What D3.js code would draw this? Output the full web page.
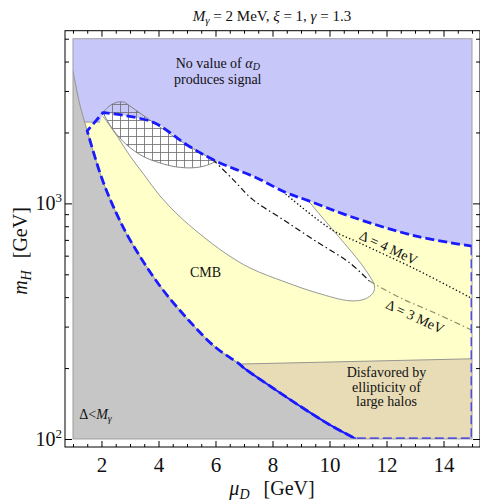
<!DOCTYPE html>
<html>
<head>
<meta charset="utf-8">
<script src="https://cdn.jsdelivr.net/npm/d3@7"></script>
<style>
  html, body { margin: 0; padding: 0; background: #fff; }
  svg { display: block; }
  text { font-family: "Liberation Serif", "DejaVu Serif", serif; fill: #111; }
</style>
</head>
<body>
<svg id="chart" width="480" height="504"></svg>
<script>
// ---- data (mu_D in GeV, m_H in GeV) ----
// boundary of the Δ < M_γ region
const muBoundary = [1.0, 1.06, 1.25, 1.5, 2, 2.5, 3, 4, 5, 6, 6.84, 7, 8, 9, 10, 10.93];
const mBoundary  = [3650, 3345, 2600, 2030, 1290, 920, 700, 455, 325, 245, 208, 200, 165, 137, 115, 100];

// upper edge: above it no value of alpha_D produces the signal
const muUpper = [2.05, 3.8, 5.0, 6.03, 7.43, 8.48, 9.25, 10.7, 13.04, 15];
const mUpper  = [2427, 2213, 1770, 1510, 1285, 1110, 1028, 883, 726, 658];

// allowed (white) lens: lower edge, tip and right edge
const muLens = [2.05, 2.545, 3.0, 3.527, 4.053, 4.685, 5.457, 6.334, 7.21, 8.44, 9.56, 10.72, 11.25, 11.53, 11.58, 11.53, 11.14, 10.72, 9.91, 9.25];
const mLens  = [2345, 1932, 1590, 1306, 1075, 893, 741, 616, 532, 464, 417, 386, 393, 417, 442, 464, 548, 634, 826, 1028];

// hatched region: top cap and lower edge (middle part follows the upper edge)
const muHatchTop = [2.05, 2.3, 2.57, 2.8, 3.8];
const mHatchTop  = [2427, 2600, 2692, 2692, 2213];
const muHatchLow = [6.03, 5.68, 5.21, 4.62, 4.04, 3.45, 2.87, 2.4, 2.05];
const mHatchLow  = [1510, 1449, 1416, 1429, 1487, 1585, 1778, 2060, 2427];

// top edge of the halo-ellipticity region
const muHalo = [6.84, 15];
const mHalo  = [208, 219];

// Δ = 3 MeV contour (inside and outside the lens)
const muD3a = [5.90, 6.61, 7.30, 8.36, 9.53, 10.70, 11.40];
const mD3a  = [1538, 1265, 1040, 855, 690, 560, 468];
const muD3b = [11.40, 12.45, 13.62, 14.96];
const mD3b  = [468, 399, 346, 291];

// Δ = 4 MeV contour
const muD4 = [8.48, 10.11, 11.05, 13.04, 14.96];
const mD4  = [1091, 769, 680, 524, 397];

// axis ticks
const xMajor = [2, 4, 6, 8, 10, 12, 14];
const xMinor = d3.range(1, 15.01, 0.5).filter(v => !xMajor.includes(v));
const yMajor = [100, 1000];
const yMinor = [200, 300, 400, 500, 600, 700, 800, 900, 2000, 3000, 4000, 5000];

const muRange = [1, 15], mRange = [100, 5000];

// ---- scales (2% padding on each side, as in the frame) ----
const padX = 0.02 * (muRange[1] - muRange[0]);
const lg = Math.log10;
const padY = 0.02 * (lg(mRange[1]) - lg(mRange[0]));
const x = d3.scaleLinear().domain([muRange[0] - padX, muRange[1] + padX]).range([65, 480]);
const y = d3.scaleLog().domain([10 ** (lg(mRange[0]) - padY), 10 ** (lg(mRange[1]) + padY)]).range([447, 30.7]);

const svg = d3.select("#chart");
const pts = (mu, m) => mu.map((v, i) => [v, m[i]]);
const straight = d3.line().x(d => x(d[0])).y(d => y(d[1]));
const smooth = d3.line().x(d => x(d[0])).y(d => y(d[1])).curve(d3.curveCatmullRom.alpha(0.5));
// join several path pieces into one continuous path
const join = (pieces, close) => pieces.map((p, i) => i ? p.replace(/^M/, "L") : p).join("") + (close ? "Z" : "");

const C = {
  lavender: "#c7c7fa", yellow: "#ffffc9", gray: "#c6c6c6", tan: "#e8dcb6",
  edge: "#8c8c8c", blue: "#1a1aff"
};

// hatch pattern
const defs = svg.append("defs");
const pat = defs.append("pattern").attr("id", "hatch").attr("patternUnits", "userSpaceOnUse")
  .attr("width", 8).attr("height", 8);
pat.append("path").attr("d", "M0,0.5H8M0.5,0V8").attr("stroke", "#6a6a6a").attr("stroke-width", 0.8).attr("fill", "none");

defs.append("clipPath").attr("id", "plotClip").append("rect")
  .attr("x", x(muRange[0])).attr("y", y(mRange[1]))
  .attr("width", x(muRange[1]) - x(muRange[0])).attr("height", y(mRange[0]) - y(mRange[1]));

const g = svg.append("g").attr("clip-path", "url(#plotClip)");

// background: no alpha_D works
g.append("rect").attr("x", x(muRange[0])).attr("y", y(mRange[1]))
  .attr("width", x(muRange[1]) - x(muRange[0])).attr("height", y(mRange[0]) - y(mRange[1]))
  .attr("fill", C.lavender);

const upper = pts(muUpper, mUpper);
const bnd = pts(muBoundary, mBoundary);

// CMB-excluded (yellow) region under the upper edge
g.append("path").attr("d", join([
  straight([[muRange[0], 2213], [1.95, 2213], upper[0]]),
  smooth(upper),
  straight([[muRange[1], upper[upper.length - 1][1]], [muRange[1], mRange[0]], [muRange[0], mRange[0]]])
], true)).attr("fill", C.yellow);

// halo ellipticity region
const halo = pts(muHalo, mHalo);
g.append("path").attr("d", straight([...halo, [muRange[1], mRange[0]], [muHalo[0], mRange[0]]]) + "Z").attr("fill", C.tan);

// allowed lens
const lens = pts(muLens, mLens);
const lensTop = upper.filter(d => d[0] <= muLens[muLens.length - 1]).reverse();
g.append("path").attr("d", join([smooth(lens), smooth(lensTop)], true)).attr("fill", "#fff");

// hatched region
const hatchMid = upper.filter(d => d[0] >= 3.8 && d[0] <= 6.03);
g.append("path").attr("d", join([
  smooth(pts(muHatchTop, mHatchTop).slice(0, 4)),
  straight(pts(muHatchTop, mHatchTop).slice(3)),
  smooth(hatchMid),
  smooth(pts(muHatchLow, mHatchLow))
], true)).attr("fill", "url(#hatch)").attr("stroke", "#777").attr("stroke-width", 0.9);

// Δ < M_γ region
g.append("path").attr("d", join([smooth(bnd), straight([[muRange[0], mRange[0]]])], true)).attr("fill", C.gray);

// region edges
const edge = sel => sel.attr("fill", "none").attr("stroke", C.edge).attr("stroke-width", 0.9);
edge(g.append("path").attr("d", smooth(bnd)));
edge(g.append("path").attr("d", straight(halo)));
edge(g.append("path").attr("d", smooth(lens)));
edge(g.append("path").attr("d", straight([[1.42, 2213], [1.95, 2213]])));

// Δ contours
g.append("path").attr("d", smooth(pts(muD3a, mD3a))).attr("fill", "none")
  .attr("stroke", "#111").attr("stroke-width", 1.2).attr("stroke-dasharray", "6,3,1.5,3");
g.append("path").attr("d", smooth(pts(muD3b, mD3b))).attr("fill", "none")
  .attr("stroke", "#8f8f68").attr("stroke-width", 1.2).attr("stroke-dasharray", "6,3,1.5,3");
g.append("path").attr("d", smooth(pts(muD4, mD4))).attr("fill", "none")
  .attr("stroke", "#111").attr("stroke-width", 1.5).attr("stroke-linecap", "round")
  .attr("stroke-dasharray", "0.1,3.6");

// signal-region boundary (blue dashed)
g.append("path").attr("d", smooth(bnd.filter(d => d[0] >= 6.84))).attr("fill", "none")
  .attr("stroke", C.blue).attr("stroke-width", 2);
const bndUp = bnd.filter(d => d[0] >= 1.5).reverse();
g.append("path").attr("d", join([
  straight([[muRange[1], upper[upper.length - 1][1]], [muRange[1], mRange[0]], [muBoundary[muBoundary.length - 1], mRange[0]]]),
  smooth(bndUp),
  straight([bndUp[bndUp.length - 1], upper[0]]),
  smooth(upper)
])).attr("fill", "none").attr("stroke", C.blue).attr("stroke-width", 2.8).attr("stroke-dasharray", "9,4");

// outline of plotted area
svg.append("rect").attr("x", x(muRange[0])).attr("y", y(mRange[1]))
  .attr("width", x(muRange[1]) - x(muRange[0])).attr("height", y(mRange[0]) - y(mRange[1]))
  .attr("fill", "none").attr("stroke", "#999").attr("stroke-width", 0.9);

// ---- labels inside the plot ----
const t = (px, py, size, anchor) => svg.append("text").attr("x", px).attr("y", py)
  .attr("font-size", size).attr("text-anchor", anchor || "middle");

const l1 = t(x(6.08), y(3760), 14);
l1.append("tspan").text("No value of ");
l1.append("tspan").attr("font-style", "italic").text("α");
l1.append("tspan").attr("font-style", "italic").attr("font-size", 10).attr("dy", 2.5).text("D");
t(x(6.08), y(3213), 14).text("produces signal");

t(x(5.65), y(487), 14).text("CMB");

["Disfavored by", "ellipticity of", "large halos"].forEach((s, i) =>
  t(x(12.0), y(183) + i * 14.5, 14).text(s));

const lm = t(x(1.22), y(122), 14, "start");
lm.append("tspan").text("Δ<");
lm.append("tspan").attr("font-style", "italic").text("M");
lm.append("tspan").attr("font-style", "italic").attr("font-size", 10).attr("dy", 3).text("γ");

t(0, 0, 14).attr("transform", `translate(${x(12.0)},${y(622)}) rotate(25)`).text("Δ = 4 MeV");
t(0, 0, 14).attr("transform", `translate(${x(12.93)},${y(317)}) rotate(25)`).text("Δ = 3 MeV");

// ---- frame and ticks ----
const frame = svg.append("g");
frame.append("rect").attr("x", 65).attr("y", 30.7).attr("width", 415).attr("height", 416.3)
  .attr("fill", "none").attr("stroke", "#000").attr("stroke-width", 1);

const axB = d3.axisBottom(x).tickValues(xMajor).tickSize(-6).tickPadding(10).tickFormat(d3.format("d"));
const axBm = d3.axisBottom(x).tickValues(xMinor).tickSize(-3).tickFormat("");
const axT = d3.axisTop(x).tickValues(xMajor).tickSize(-6).tickFormat("");
const axTm = d3.axisTop(x).tickValues(xMinor).tickSize(-3).tickFormat("");
const axL = d3.axisLeft(y).tickValues(yMajor).tickSize(-7).tickFormat("");
const axLm = d3.axisLeft(y).tickValues(yMinor).tickSize(-4).tickFormat("");
const axR = d3.axisRight(y).tickValues(yMajor).tickSize(-7).tickFormat("");
const axRm = d3.axisRight(y).tickValues(yMinor).tickSize(-4).tickFormat("");

const put = (ax, tx, ty) => {
  const a = frame.append("g").attr("transform", `translate(${tx},${ty})`).call(ax);
  a.select(".domain").remove();
  a.selectAll("line").attr("stroke", "#000");
  return a;
};
const bAx = put(axB, 0, 447);
bAx.selectAll("text").attr("font-size", 21).attr("font-family", "Liberation Serif").attr("fill", "#111");
put(axBm, 0, 447); put(axT, 0, 30.7); put(axTm, 0, 30.7);
put(axL, 65, 0); put(axLm, 65, 0);
put(axR, 480, 0); put(axRm, 480, 0);

// 10^n labels
yMajor.forEach(v => {
  const tx = svg.append("text").attr("x", 62).attr("y", y(v) + 7).attr("text-anchor", "end")
    .attr("font-size", 20);
  tx.append("tspan").text("10");
  tx.append("tspan").attr("font-size", 13).attr("dy", -8).text(Math.round(lg(v)));
});

// axis titles
const xl = svg.append("text").attr("x", 272).attr("y", 495).attr("text-anchor", "middle").attr("font-size", 20);
xl.append("tspan").attr("font-style", "italic").text("μ");
xl.append("tspan").attr("font-style", "italic").attr("font-size", 14).attr("dy", 4).text("D");
xl.append("tspan").attr("dy", -4).attr("dx", 14).text("[GeV]");

const yl = svg.append("text").attr("transform", "translate(27,251) rotate(-90)")
  .attr("text-anchor", "middle").attr("font-size", 20);
yl.append("tspan").attr("font-style", "italic").text("m");
yl.append("tspan").attr("font-style", "italic").attr("font-size", 14).attr("dy", 4).text("H");
yl.append("tspan").attr("dy", -4).attr("dx", 12).text("[GeV]");

// title
const tt = svg.append("text").attr("x", 272).attr("y", 21).attr("text-anchor", "middle").attr("font-size", 15);
tt.append("tspan").attr("font-style", "italic").text("M");
tt.append("tspan").attr("font-style", "italic").attr("font-size", 11).attr("dy", 3).text("γ");
tt.append("tspan").attr("dy", -3).text(" = 2 MeV, ");
tt.append("tspan").attr("font-style", "italic").text("ξ");
tt.append("tspan").text(" = 1, ");
tt.append("tspan").attr("font-style", "italic").text("γ");
tt.append("tspan").text(" = 1.3");
</script>
</body>
</html>
